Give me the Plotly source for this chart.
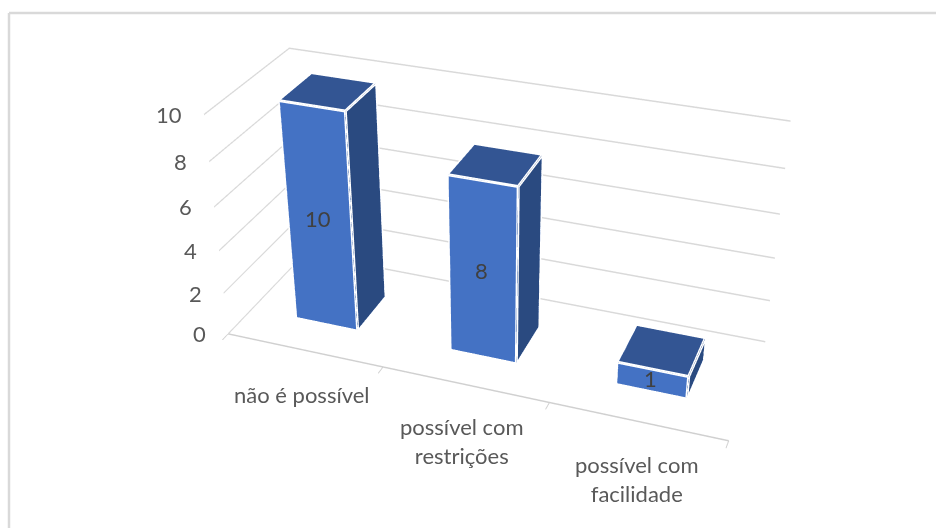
import plotly.graph_objects as go

categories = ["não é possível", "possível com<br>restrições", "possível com<br>facilidade"]
values = [10, 8, 1]
z_ticks = [0, 2, 4, 6, 8, 10]
cat_shift_x = [-2, -3, 0]
cat_shift_y = [-44, -57, -58]

FRONT, TOP, SIDE = "#4472C4", "#335593", "#2A4A80"
GRID, TEXT, LABEL = "#D9D9D9", "#595959", "#404040"
PAGE_W, PAGE_H = 936, 528
FIG_W, FIG_H, FIG_TOP = 984, 1200, -336
BAR_MARGIN, BAR_Y0, BAR_Y1 = 0.300, 0.302, 0.695
EYE = (1.717, -4.724, 2.813)
CENTER = (-0.051, 0.096, -0.208)
ASPECT = (2.113, 0.712, 1)

fig = go.Figure()
for i, v in enumerate(values):
    x0, x1 = i+BAR_MARGIN, i+1-BAR_MARGIN
    y0, y1 = BAR_Y0, BAR_Y1
    vx = [x0,x1,x1,x0,x0,x1,x1,x0]; vy = [y0,y0,y1,y1,y0,y0,y1,y1]; vz = [0,0,0,0,v,v,v,v]
    tri = [(0,1,5),(0,5,4),(1,2,6),(1,6,5),(4,5,6),(4,6,7),(0,3,2),(0,2,1),(3,0,4),(3,4,7),(2,3,7),(2,7,6)]
    col = [FRONT,FRONT,SIDE,SIDE,TOP,TOP,FRONT,FRONT,FRONT,FRONT,FRONT,FRONT]
    fig.add_trace(go.Mesh3d(x=vx,y=vy,z=vz,i=[t[0] for t in tri],j=[t[1] for t in tri],k=[t[2] for t in tri],
        facecolor=col,flatshading=True,lighting=dict(ambient=1,diffuse=0,specular=0,fresnel=0),hoverinfo="skip"))
    ed = [(0,1),(1,5),(5,4),(4,0),(1,2),(2,6),(6,5),(6,7),(7,4)]
    ex, ey, ez = [], [], []
    for a,b in ed:
        ex += [vx[a],vx[b],None]; ey += [vy[a],vy[b],None]; ez += [vz[a],vz[b],None]
    fig.add_trace(go.Scatter3d(x=ex,y=ey,z=ez,mode="lines",line=dict(color="white",width=6),hoverinfo="skip"))

off = dict(showbackground=False,showticklabels=False,title="",zeroline=False,showspikes=False)
ann = []
LF = dict(family="Lato",size=22,color=TEXT)
for t in z_ticks:
    ann.append(dict(x=0,y=0,z=t,text=str(t),showarrow=False,xanchor="right",xshift=-20,font=LF))
for i,cname in enumerate(categories):
    ann.append(dict(x=i+.5,y=0,z=0,text=cname,showarrow=False,xshift=cat_shift_x[i],yshift=cat_shift_y[i],font=LF))
for i,v in enumerate(values):
    ann.append(dict(x=i+.5,y=BAR_Y0,z=v/2,text=str(v),showarrow=False,xshift=-2,yshift=1,font=dict(family="Lato",size=22,color=LABEL)))

px = lambda x: x/FIG_W
py = lambda y: 1-(y-FIG_TOP)/FIG_H
fig.update_layout(width=FIG_W,height=FIG_H,margin=dict(l=0,r=0,t=0,b=0),showlegend=False,paper_bgcolor="white",
    scene=dict(domain=dict(x=[0,1],y=[0,1]),aspectmode="manual",aspectratio=dict(x=ASPECT[0],y=ASPECT[1],z=ASPECT[2]),
        camera=dict(eye=dict(x=EYE[0],y=EYE[1],z=EYE[2]),center=dict(x=CENTER[0],y=CENTER[1],z=CENTER[2]),up=dict(x=0,y=0,z=1),projection=dict(type="perspective")),
        xaxis=dict(range=[0,3],showgrid=False,tickvals=[0,1,2,3],showline=True,linecolor="#D0D0D0",linewidth=3,ticks="outside",ticklen=8,tickcolor="#D0D0D0",tickwidth=2,**off),
        yaxis=dict(range=[0,1],showgrid=False,showline=False,ticks="",**off),
        zaxis=dict(range=[0,10],tickvals=z_ticks,showgrid=True,gridcolor=GRID,gridwidth=3,showline=False,ticks="",**off),
        annotations=ann),
    shapes=[dict(type="line",xref="paper",yref="paper",x0=px(9),x1=px(PAGE_W),y0=py(13),y1=py(13),line=dict(color=GRID,width=2.5)),
            dict(type="line",xref="paper",yref="paper",x0=px(9),x1=px(9),y0=py(PAGE_H),y1=py(13),line=dict(color=GRID,width=2.5))])
fig.write_html("out.html", config=dict(displayModeBar=False),
    post_script="document.documentElement.style.overflow='hidden';document.body.style.margin='0';document.body.style.overflow='hidden';var g=document.querySelector('.plotly-graph-div');g.style.position='absolute';g.style.left='0';g.style.top='%dpx';" % FIG_TOP)
